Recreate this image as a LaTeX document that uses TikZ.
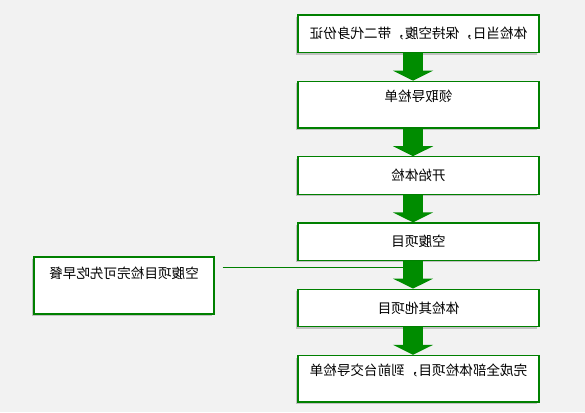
\documentclass[tikz,border=0pt]{standalone}
\usepackage{graphicx}
\usepackage{fontspec}
\setmainfont{Noto Sans CJK SC}
\usepackage{tikz}
\usetikzlibrary{positioning,calc,shadows,arrows.meta}

\definecolor{boxgreen}{RGB}{0,128,0}
\definecolor{arrowgreen}{RGB}{0,140,0}
\newcommand\flip[1]{\reflectbox{#1}}

\begin{document}
\begin{tikzpicture}[x=0.75pt,y=0.75pt,
  node distance=20.75pt,
  flow box/.style={rectangle, draw=boxgreen, line width=0.9pt, fill=white, inner sep=0pt,
    minimum width=180.75pt, minimum height=28pt, align=center,
    font=\fontsize{10.2}{12}\selectfont,
    drop shadow={shadow xshift=-1.6pt, shadow yshift=-1.6pt, fill=black, opacity=0.2}},
  tall box/.style={flow box, text height=15pt, text depth=20pt},
  flow arrow/.style={draw=arrowgreen, line width=15pt,
    -{Triangle[length=7.5pt, width=30pt, fill=arrowgreen]}},
  side line/.style={draw=boxgreen, line width=0.8pt}]

  \fill[gray!10] (0,0) rectangle (585,-412);
  \useasboundingbox (0,0) rectangle (585,-412);

  \node [flow box] (DayOf) at (418.5,-33.7) {\flip{体检当日，保持空腹，带二代身份证}};
  \node [tall box, below=of DayOf] (GetSheet) {\flip{领取导检单}};
  \node [flow box, below=of GetSheet] (StartExam) {\flip{开始体检}};
  \node [flow box, below=of StartExam] (Fasting) {\flip{空腹项目}};
  \node [flow box, below=of Fasting] (OtherItems) {\flip{体检其他项目}};
  \node [tall box, below=of OtherItems] (Finish) {\flip{完成全部体检项目，到前台交导检单}};

  \node [flow box, minimum width=135pt, text height=15.8pt, text depth=27pt] (Breakfast)
    at (124,-285.5) {\flip{空腹项目检完可先吃早餐}};

  \foreach \a/\b in {DayOf/GetSheet, GetSheet/StartExam, StartExam/Fasting,
                     Fasting/OtherItems, OtherItems/Finish}
    \draw [flow arrow] ([xshift=-4.1pt]\a.south) -- ([xshift=-4.1pt]\b.north);

  \coordinate (BreakfastEnd) at ($(Breakfast.north east)+(6pt,-8.25pt)$);
  \coordinate (ShaftLeft) at ([xshift=-11.6pt]Fasting.south);
  \draw [side line] (BreakfastEnd) -- (BreakfastEnd -| ShaftLeft);
\end{tikzpicture}
\end{document}
